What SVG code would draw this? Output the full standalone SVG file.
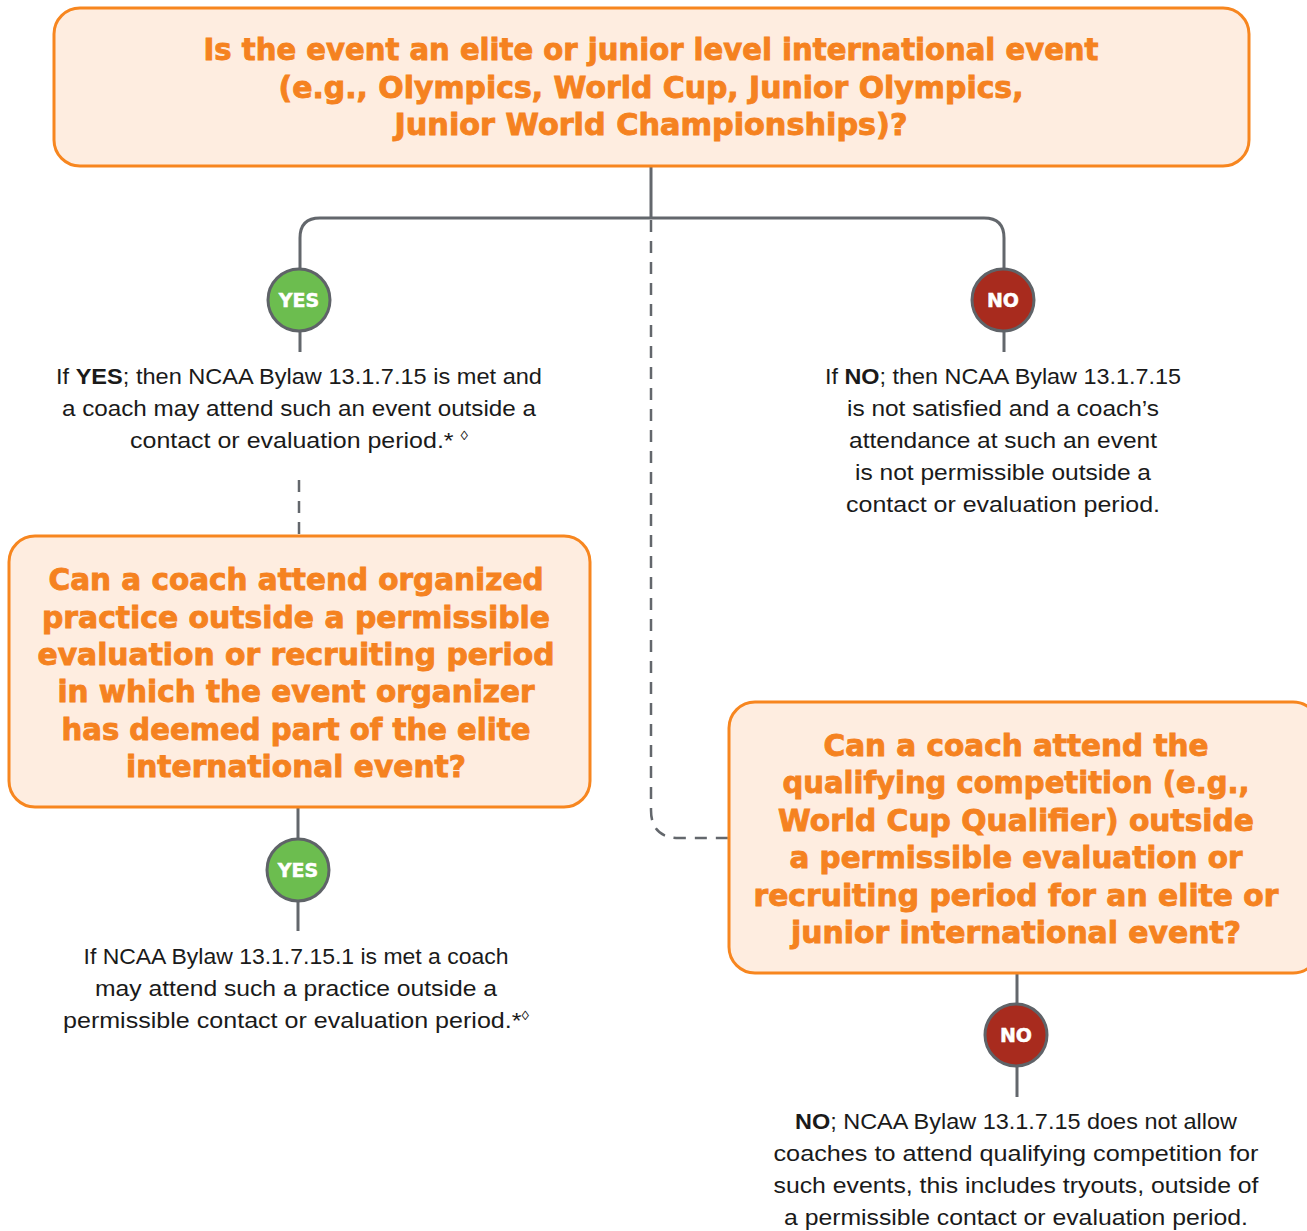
<svg xmlns="http://www.w3.org/2000/svg" width="1307" height="1231" viewBox="0 0 1307 1231">
<style>
.box{fill:#FEEDE0;stroke:#F7861F;stroke-width:3}
.h{font-family:"DejaVu Sans",sans-serif;font-weight:bold;fill:#F58220;stroke:#F58220;stroke-width:0.9;text-anchor:middle;font-size:30px}
.b{font-family:"Liberation Sans",sans-serif;fill:#1a1a1a;text-anchor:middle;font-size:21.5px}
.b .k{font-weight:bold}
.ln{fill:none;stroke:#63676C;stroke-width:3}
.dl{fill:none;stroke:#63676C;stroke-width:2.5;stroke-dasharray:12 9}
.yes{fill:#6CBD4F;stroke:#5F6368;stroke-width:3}
.no{fill:#A82B1E;stroke:#5F6368;stroke-width:3}
.ct{font-family:"DejaVu Sans",sans-serif;font-weight:bold;fill:#fff;stroke:#fff;stroke-width:0.5;text-anchor:middle;font-size:19px}
.sup{font-size:13px}
</style>
<g id="connectors">
<path class="ln" d="M651 166 V218"/>
<path class="ln" d="M300 268 V238 Q300 218 320 218 H984 Q1004 218 1004 238 V268"/>
<path class="ln" d="M300 332 V352"/>
<path class="ln" d="M1004 332 V352"/>
<path class="dl" d="M651 220 V810 Q651 838 679 838 H729"/>
<path class="dl" d="M299 480 V536"/>
<path class="ln" d="M298 807 V839"/>
<path class="ln" d="M298 901 V931"/>
<path class="ln" d="M1017 973 V1004"/>
<path class="ln" d="M1017 1066 V1097"/>
</g>
<g id="q1">
<rect class="box" x="54" y="8" width="1195" height="158" rx="26"/>
<text class="h" x="651" y="60" textLength="895" lengthAdjust="spacingAndGlyphs">Is the event an elite or junior level international event</text>
<text class="h" x="651" y="98" textLength="745" lengthAdjust="spacingAndGlyphs">(e.g., Olympics, World Cup, Junior Olympics,</text>
<text class="h" x="651" y="135" textLength="513" lengthAdjust="spacingAndGlyphs">Junior World Championships)?</text>
</g>
<g id="yes1">
<circle class="yes" cx="299" cy="300" r="31"/>
<text class="ct" x="299" y="307">YES</text>
</g>
<g id="no1">
<circle class="no" cx="1003" cy="300" r="31"/>
<text class="ct" x="1003" y="307">NO</text>
</g>
<g id="yes1text">
<text class="b" x="299" y="384" textLength="486" lengthAdjust="spacingAndGlyphs">If <tspan class="k">YES</tspan>; then NCAA Bylaw 13.1.7.15 is met and</text>
<text class="b" x="299" y="416" textLength="474" lengthAdjust="spacingAndGlyphs">a coach may attend such an event outside a</text>
<text class="b" x="299" y="448" textLength="338" lengthAdjust="spacingAndGlyphs">contact or evaluation period.* <tspan class="sup" dy="-8">◊</tspan></text>
</g>
<g id="no1text">
<text class="b" x="1003" y="384" textLength="356" lengthAdjust="spacingAndGlyphs">If <tspan class="k">NO</tspan>; then NCAA Bylaw 13.1.7.15</text>
<text class="b" x="1003" y="416" textLength="312" lengthAdjust="spacingAndGlyphs">is not satisfied and a coach’s</text>
<text class="b" x="1003" y="448" textLength="308" lengthAdjust="spacingAndGlyphs">attendance at such an event</text>
<text class="b" x="1003" y="480" textLength="296" lengthAdjust="spacingAndGlyphs">is not permissible outside a</text>
<text class="b" x="1003" y="512" textLength="314" lengthAdjust="spacingAndGlyphs">contact or evaluation period.</text>
</g>
<g id="q2">
<rect class="box" x="9" y="536" width="581" height="271" rx="26"/>
<text class="h" x="296" y="590" textLength="495" lengthAdjust="spacingAndGlyphs">Can a coach attend organized</text>
<text class="h" x="296" y="628" textLength="508" lengthAdjust="spacingAndGlyphs">practice outside a permissible</text>
<text class="h" x="296" y="665" textLength="517" lengthAdjust="spacingAndGlyphs">evaluation or recruiting period</text>
<text class="h" x="296" y="702" textLength="477" lengthAdjust="spacingAndGlyphs">in which the event organizer</text>
<text class="h" x="296" y="740" textLength="469" lengthAdjust="spacingAndGlyphs">has deemed part of the elite</text>
<text class="h" x="296" y="777" textLength="340" lengthAdjust="spacingAndGlyphs">international event?</text>
</g>
<g id="yes2">
<circle class="yes" cx="298" cy="870" r="31"/>
<text class="ct" x="298" y="877">YES</text>
</g>
<g id="yes2text">
<text class="b" x="296" y="964" textLength="425" lengthAdjust="spacingAndGlyphs">If NCAA Bylaw 13.1.7.15.1 is met a coach</text>
<text class="b" x="296" y="996" textLength="402" lengthAdjust="spacingAndGlyphs">may attend such a practice outside a</text>
<text class="b" x="296" y="1028" textLength="466" lengthAdjust="spacingAndGlyphs">permissible contact or evaluation period.*<tspan class="sup" dy="-8">◊</tspan></text>
</g>
<g id="q3">
<rect class="box" x="729" y="702" width="590" height="271" rx="26"/>
<text class="h" x="1016" y="756" textLength="385" lengthAdjust="spacingAndGlyphs">Can a coach attend the</text>
<text class="h" x="1016" y="793" textLength="467" lengthAdjust="spacingAndGlyphs">qualifying competition (e.g.,</text>
<text class="h" x="1016" y="831" textLength="476" lengthAdjust="spacingAndGlyphs">World Cup Qualifier) outside</text>
<text class="h" x="1016" y="868" textLength="453" lengthAdjust="spacingAndGlyphs">a permissible evaluation or</text>
<text class="h" x="1016" y="906" textLength="525" lengthAdjust="spacingAndGlyphs">recruiting period for an elite or</text>
<text class="h" x="1016" y="943" textLength="450" lengthAdjust="spacingAndGlyphs">junior international event?</text>
</g>
<g id="no2">
<circle class="no" cx="1016" cy="1035" r="31"/>
<text class="ct" x="1016" y="1042">NO</text>
</g>
<g id="no2text">
<text class="b" x="1016" y="1129" textLength="442" lengthAdjust="spacingAndGlyphs"><tspan class="k">NO</tspan>; NCAA Bylaw 13.1.7.15 does not allow</text>
<text class="b" x="1016" y="1161" textLength="485" lengthAdjust="spacingAndGlyphs">coaches to attend qualifying competition for</text>
<text class="b" x="1016" y="1193" textLength="485" lengthAdjust="spacingAndGlyphs">such events, this includes tryouts, outside of</text>
<text class="b" x="1016" y="1225" textLength="464" lengthAdjust="spacingAndGlyphs">a permissible contact or evaluation period.</text>
</g>
</svg>
